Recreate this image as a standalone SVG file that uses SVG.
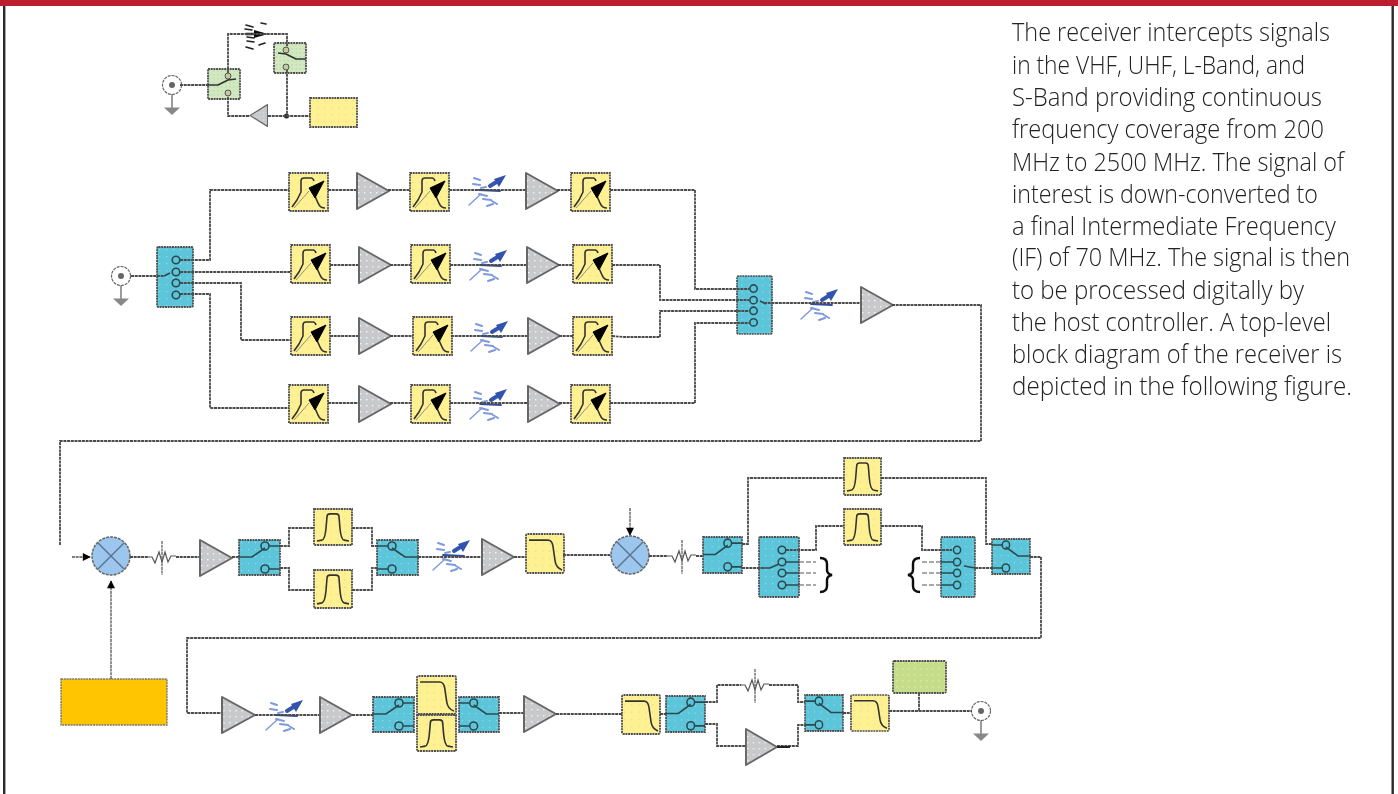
<svg xmlns="http://www.w3.org/2000/svg" width="1398" height="794" viewBox="0 0 1398 794">
<style>
.w{fill:none;stroke:#4c4c4c;stroke-width:1.8;stroke-dasharray:3 .7}
.thin{fill:none;stroke:#555;stroke-width:1.3;stroke-dasharray:3 .7}
.b{stroke:#505050;stroke-width:1.8;stroke-dasharray:2 .7}
.k{fill:none;stroke:#333;stroke-width:1.6;stroke-linejoin:round}
.p{fill:none;stroke:#2c4a50;stroke-width:1.6}
.t text{font-family:"Open Sans","Noto Sans",sans-serif;font-weight:300;font-size:25px;fill:#222}
</style>
<defs>
<filter id="soft" x="-2%" y="-2%" width="104%" height="104%"><feGaussianBlur stdDeviation="0.5"/></filter>
<pattern id="py" width="7" height="7" patternUnits="userSpaceOnUse"><rect width="7" height="7" fill="#fdf191"/><rect x="2" y="2" width="1.4" height="1.4" fill="#f7d9a8"/></pattern>
<pattern id="pg" width="6" height="6" patternUnits="userSpaceOnUse"><rect width="6" height="6" fill="#c9c9cb"/><rect x="2" y="2" width="1.4" height="1.4" fill="#e2fbfb"/></pattern>
<pattern id="pb" width="7" height="7" patternUnits="userSpaceOnUse"><rect width="7" height="7" fill="#5cc5da"/><rect x="2" y="2" width="1.2" height="1.2" fill="#92dde6"/></pattern>
<pattern id="pv" width="4" height="4" patternUnits="userSpaceOnUse"><rect width="4" height="4" fill="#d3e8bd"/><rect x="1" y="1" width="1.5" height="1.5" fill="#b6dcc0"/></pattern>
<pattern id="pl" width="6" height="6" patternUnits="userSpaceOnUse"><rect width="6" height="6" fill="#c4dd8d"/><rect x="2" y="2" width="1.5" height="1.5" fill="#ece87f"/></pattern>
<symbol id="tun" viewBox="0 0 39 38" overflow="visible" preserveAspectRatio="none"><rect width="39" height="38" fill="url(#py)" class="b"/><path class="k" d="M3 34L8 27L12 19V8Q12 5 15 5H22Q24 5 25 8M25 21L29 30Q31 35 36 35"/><path d="M5 35L20 18" fill="none" stroke="#777" stroke-width=".8"/><path d="M35 8L20 15L26 25Z" fill="#000" stroke="#000"/></symbol>
<symbol id="bpf" viewBox="0 0 38 37" overflow="visible" preserveAspectRatio="none"><rect width="38" height="37" fill="url(#py)" class="b"/><path class="k" d="M3 33L8 32Q11 31 12 20L13 8Q13 5 16 5H22Q25 5 25 8L26 20Q27 31 30 32L35 33"/></symbol>
<symbol id="lpf" viewBox="0 0 38 38" overflow="visible" preserveAspectRatio="none"><rect width="38" height="38" fill="url(#py)" class="b" rx="1.5"/><path class="k" d="M3 6H22Q26 6 27 12L29 26Q30 33 36 35"/></symbol>
<symbol id="amp" viewBox="0 0 33 38" overflow="visible" preserveAspectRatio="none"><path d="M1 1L33 19L1 37Z" fill="url(#pg)" stroke="#666" stroke-width="2" stroke-linejoin="round"/></symbol>
<g id="att" fill="none" stroke="#7f99dc" stroke-width="2" stroke-linecap="round"><path d="M-19 15L-7 4" stroke-width="1.4"/><path d="M-14 -12L-8 -10M-15 -6L-8 -5M-9 4L-1 6M-5 9L3 10M4 11L9 14M-1 16L5 14M-7 -2L-2 -3"/><path d="M-9 0L12 1" stroke="#2f4c9c" stroke-width="1.8"/><path d="M2 -4L10 -9" stroke="#3654ae" stroke-width="4"/><path d="M18 -15L6 -11L11 -3Z" fill="#3352ad" stroke="none"/></g>
<g id="res" fill="none" stroke="#555" stroke-width="1.2"><path d="M-14 0H-10L-7 6L-3 -5L0 5L3 -5L6 5L9 -1H14"/><path d="M0 -16V18" stroke-dasharray="3 .7"/></g>
<symbol id="sw" viewBox="0 0 41 35" overflow="visible" preserveAspectRatio="none"><rect width="41" height="35" fill="url(#pb)" class="b"/><path class="p" d="M0 17H13L26 8M30 6H41M30 29H41"/><circle cx="26" cy="6" r="4" fill="#5cc5da" class="p"/><circle cx="26" cy="29" r="4" fill="#5cc5da" class="p"/></symbol>
<symbol id="sw4" viewBox="0 0 36 60" overflow="visible" preserveAspectRatio="none"><rect width="36" height="60" rx="1.5" fill="url(#pb)" class="b"/><g class="p" style="fill:#5cc5da"><circle cx="19" cy="13" r="3.8"/><circle cx="19" cy="25" r="3.8"/><circle cx="19" cy="36" r="3.8"/><circle cx="19" cy="48" r="3.8"/></g></symbol>
<symbol id="vsw" viewBox="0 0 32 30" overflow="visible" preserveAspectRatio="none"><rect width="32" height="30" fill="url(#pv)" class="b"/><circle cx="20" cy="7" r="3" fill="#c5c9a0" stroke="#555"/><circle cx="20" cy="24" r="3" fill="#c5c9a0" stroke="#555"/><path d="M0 16H10L20 11L28 10" class="k" stroke-width="1.3"/></symbol>
<g id="gnd"><path d="M0 0V23" stroke="#666" stroke-width="1.3"/><path d="M-8 22.500H8L0 30Z" fill="#888"/></g>
<g id="cn"><circle r="9.500" fill="#fff" stroke="#666" stroke-width="1.2" stroke-dasharray="3 1"/><circle r="3" fill="#666"/></g>
<marker id="ah" viewBox="0 0 10 10" refX="9" refY="5" markerWidth="10" markerHeight="8" orient="auto" markerUnits="userSpaceOnUse"><path d="M0 0L10 5L0 10Z" fill="#000"/></marker>
</defs>
<rect width="1398" height="794" fill="#fff"/>
<rect id="frame-left" x="3" y="0" width="2.4" height="794" fill="#2b2b2b"/>
<rect id="frame-right" x="1391.500" y="0" width="2.4" height="794" fill="#2b2b2b"/>
<rect id="top-bar" width="1398" height="6" fill="#bd1e2d"/>
<g filter="url(#soft)">
<g id="n-ant1"><use href="#gnd" x="172" y="85"/><use href="#cn" x="172" y="85"/></g>
<g id="n-vsw1"><use href="#vsw" x="208" y="69" width="32" height="30"/></g>
<g id="n-vsw2"><use href="#vsw" transform="translate(306,43) scale(-1,1)" width="32" height="30"/></g>
<g id="n-att0" fill="none" stroke="#222" stroke-width="1.6" stroke-linecap="round"><path d="M246 25L253 27M261 23L266 24M245 29L252 30M247 37L254 38M247 41L254 42M259 45L265 43M246 47L253 49"/><path d="M246 34H262" stroke-width="2.4"/><path d="M268 34L254 30V38Z" fill="#111" stroke="none"/></g>
<g id="n-amp0"><use href="#amp" transform="translate(268,104) scale(-1,1)" width="18" height="23"/></g>
<g id="n-ctl0"><rect x="310" y="98" width="47" height="29" fill="url(#py)" class="b"/></g>
<circle id="n-tee" cx="286.500" cy="116" r="2.500" fill="#222"/>
<g id="n-ant2"><use href="#gnd" x="121" y="276"/><use href="#cn" x="121" y="276"/></g>
<g id="n-sp4"><use href="#sw4" x="157" y="247" width="36" height="60"/><path class="p" d="M164 276L170 273"/></g>
<g id="r1"><use href="#tun" x="289" y="173" width="39" height="38"/><use href="#amp" x="356" y="172" width="33" height="38"/><use href="#tun" x="410" y="173" width="39" height="38"/><use href="#att" x="488" y="190"/><use href="#amp" x="525" y="172" width="33" height="38"/><use href="#tun" x="571" y="173" width="39" height="38"/></g>
<g id="r2"><use href="#tun" x="291" y="245" width="39" height="38"/><use href="#amp" x="358" y="246" width="33" height="38"/><use href="#tun" x="411" y="245" width="39" height="38"/><use href="#att" x="489" y="265"/><use href="#amp" x="526" y="246" width="33" height="38"/><use href="#tun" x="573" y="245" width="39" height="38"/></g>
<g id="r3"><use href="#tun" x="291" y="317" width="39" height="38"/><use href="#amp" x="358" y="317" width="33" height="38"/><use href="#tun" x="413" y="317" width="39" height="38"/><use href="#att" x="490" y="336"/><use href="#amp" x="527" y="317" width="33" height="38"/><use href="#tun" x="573" y="317" width="39" height="38"/></g>
<g id="r4"><use href="#tun" x="289" y="385" width="39" height="38"/><use href="#amp" x="358" y="385" width="33" height="38"/><use href="#tun" x="411" y="385" width="39" height="38"/><use href="#att" x="489" y="404"/><use href="#amp" x="527" y="385" width="33" height="38"/><use href="#tun" x="571" y="385" width="39" height="38"/></g>
<g id="n-4p1"><use href="#sw4" transform="translate(772,276) scale(-1,1)" width="35" height="58"/><path class="p" d="M760 301L766 304"/></g>
<g id="n-att1"><use href="#att" x="820" y="304"/></g>
<g id="n-amp1"><use href="#amp" x="860" y="286" width="33" height="38"/></g>
<g id="n-mix1"><circle cx="111" cy="556" r="19" fill="#9cc6ee" stroke="#666" stroke-width="1.5" stroke-dasharray="3 1"/><path d="M98 543L124 569M124 543L98 569" stroke="#5a7693" stroke-width="1.5"/></g>
<g id="n-res1"><use href="#res" x="162" y="557"/></g>
<g id="n-lo"><rect x="61" y="679" width="106" height="46" fill="#ffc600" stroke="#777" stroke-width="1.4" stroke-dasharray="2 .8"/></g>
<g id="n-amp2"><use href="#amp" x="199" y="539" width="33" height="38"/></g>
<g id="n-sw1"><use href="#sw" x="239" y="540" width="41" height="35"/></g>
<g id="n-bp1"><use href="#bpf" x="314" y="509" width="38" height="36"/></g>
<g id="n-bp2"><use href="#bpf" x="314" y="570" width="38" height="38"/></g>
<g id="n-sw2"><use href="#sw" transform="translate(418,540) scale(-1,1)" width="41" height="35"/></g>
<g id="n-att2"><use href="#att" x="452" y="555"/></g>
<g id="n-amp3"><use href="#amp" x="481" y="538" width="33" height="38"/></g>
<g id="n-lp1"><use href="#lpf" x="526" y="534" width="38" height="39"/></g>
<g id="n-mix2"><circle cx="630" cy="555" r="19" fill="#9cc6ee" stroke="#666" stroke-width="1.5" stroke-dasharray="3 1"/><path d="M617 542L643 568M643 542L617 568" stroke="#5a7693" stroke-width="1.5"/></g>
<g id="n-res2"><use href="#res" x="682" y="556"/></g>
<g id="n-sw3"><use href="#sw" x="703" y="537" width="39" height="36"/></g>
<g id="n-4p2"><rect x="759" y="537" width="40" height="60" rx="1.500" fill="url(#pb)" class="b"/><g class="p"><circle cx="782" cy="550" r="3.800"/><circle cx="782" cy="562" r="3.800"/><circle cx="782" cy="573" r="3.800"/><circle cx="782" cy="585" r="3.800"/><path d="M763 568H770L779 564M786 562H799M786 573H799M786 585H799"/></g></g>
<g id="n-bp3"><use href="#bpf" x="844" y="458" width="37" height="37"/></g>
<g id="n-bp4"><use href="#bpf" x="844" y="509" width="37" height="36"/></g>
<g id="n-4p3"><use href="#sw4" transform="translate(975,537) scale(-1,1)" width="34" height="60"/><path class="p" d="M941 562H953M941 573H953M941 585H953M964 566L975 568"/></g>
<g id="n-sw4"><use href="#sw" transform="translate(1030,539) scale(-1,1)" width="38" height="35"/></g>
<path id="n-brace1" d="M820 558Q827 558 827 564V570Q827 574 832 575Q827 576 827 580V586Q827 592 820 592" fill="none" stroke="#111" stroke-width="2.400"/>
<path id="n-brace2" d="M920 558Q913 558 913 564V570Q913 574 908 575Q913 576 913 580V586Q913 592 920 592" fill="none" stroke="#111" stroke-width="2.400"/>
<g id="n-amp4"><use href="#amp" x="221" y="696" width="34" height="38"/></g>
<g id="n-att3"><use href="#att" x="285" y="715"/></g>
<g id="n-amp5"><use href="#amp" x="319" y="696" width="33" height="38"/></g>
<g id="n-sw5"><use href="#sw" x="373" y="697" width="41" height="35"/></g>
<g id="n-lp2"><use href="#lpf" x="417" y="676" width="39" height="38"/></g>
<g id="n-bp5"><use href="#bpf" x="417" y="715" width="39" height="36"/></g>
<g id="n-sw6"><use href="#sw" transform="translate(499,697) scale(-1,1)" width="40" height="35"/></g>
<g id="n-amp6"><use href="#amp" x="523" y="695" width="33" height="38"/></g>
<g id="n-lp3"><use href="#lpf" x="622" y="695" width="38" height="39"/></g>
<g id="n-sw7"><use href="#sw" x="666" y="696" width="39" height="36"/></g>
<g id="n-res3"><use href="#res" x="755" y="685"/></g>
<g id="n-amp7"><use href="#amp" x="745" y="728" width="32" height="38"/></g>
<g id="n-sw8"><use href="#sw" transform="translate(843,695) scale(-1,1)" width="38" height="36"/></g>
<g id="n-lp4"><use href="#lpf" x="851" y="695" width="38" height="36"/></g>
<g id="n-ctl1"><rect x="893" y="661" width="53" height="32" rx="1.500" fill="url(#pl)" class="b"/></g>
<g id="n-ant3"><use href="#gnd" x="981" y="711"/><use href="#cn" x="981" y="711"/></g>
<g id="connectors">
<path class="w" d="M180 85H208M228 73V34H287V47M228 97V116H250M268 116H310M287 70V116"/>
<path class="w" d="M180 260H210V190H289M180 272H291M180 283H241V340H291M180 294H210V408H289"/>
<path class="w" d="M328 190H356M388 190H410M449 190H525M557 190H571M610 190H695V289H749"/>
<path class="w" d="M330 265H358M390 265H411M450 265H526M558 265H573M612 265H660V300H749"/>
<path class="w" d="M330 336H358M390 336H413M451 336H527M559 336H573M612 336L624 337H660V311H749"/>
<path class="w" d="M328 403H358M390 403H411M450 403H527M559 403H571M610 403H695V323H749"/>
<path class="w" d="M131 276H164M764 303H860M892 305H981V441H60V545"/>
<path class="thin" d="M72 557H90" marker-end="url(#ah)"/>
<path class="thin" d="M111 679V581" marker-end="url(#ah)"/>
<path class="thin" d="M630 508V535" marker-end="url(#ah)"/>
<path class="w" d="M130 557H148M176 557H199M232 557H239M280 546H289V528H314M280 568H289V590H314M352 528H372V546H377M352 590H372V568H377M418 557H481M514 557H526M563 555H611M649 556H668M696 556H703M742 544H748V478H844M881 478H986V544H992"/>
<path class="w" d="M742 568H763M786 550H816V526H844M881 526H922V550H952M975 568H992M1030 557H1041V638H187V713H221M255 715H319M352 715H373M499 713H523M556 714H622M660 714H666"/>
<path class="w" d="M705 702H717V685H741M769 685H798V702H805M705 724H717V746H745M777 746H798V725H805M843 713H851M889 711H972M919 693V711"/>
<path d="M799 562H816M799 573H816M799 585H816M941 562H922M941 573H922M941 585H922" fill="none" stroke="#555" stroke-width="1.200" stroke-dasharray="5 2"/>
<path d="M777 747H790" stroke="#222" stroke-width="2"/>
</g>
</g>
<g class="t">
<text x="1012" y="41" textLength="318" lengthAdjust="spacingAndGlyphs">The receiver intercepts signals</text>
<text x="1012" y="74" textLength="293" lengthAdjust="spacingAndGlyphs">in the VHF, UHF, L-Band, and</text>
<text x="1012" y="106" textLength="310" lengthAdjust="spacingAndGlyphs">S-Band providing continuous</text>
<text x="1012" y="138" textLength="312" lengthAdjust="spacingAndGlyphs">frequency coverage from 200</text>
<text x="1012" y="171" textLength="332" lengthAdjust="spacingAndGlyphs">MHz to 2500 MHz. The signal of</text>
<text x="1012" y="203" textLength="306" lengthAdjust="spacingAndGlyphs">interest is down-converted to</text>
<text x="1012" y="235" textLength="324" lengthAdjust="spacingAndGlyphs">a final Intermediate Frequency</text>
<text x="1012" y="266" textLength="338" lengthAdjust="spacingAndGlyphs">(IF) of 70 MHz. The signal is then</text>
<text x="1012" y="299" textLength="292" lengthAdjust="spacingAndGlyphs">to be processed digitally by</text>
<text x="1012" y="331" textLength="319" lengthAdjust="spacingAndGlyphs">the host controller. A top-level</text>
<text x="1012" y="363" textLength="330" lengthAdjust="spacingAndGlyphs">block diagram of the receiver is</text>
<text x="1012" y="395" textLength="340" lengthAdjust="spacingAndGlyphs">depicted in the following figure.</text>
</g>
</svg>
